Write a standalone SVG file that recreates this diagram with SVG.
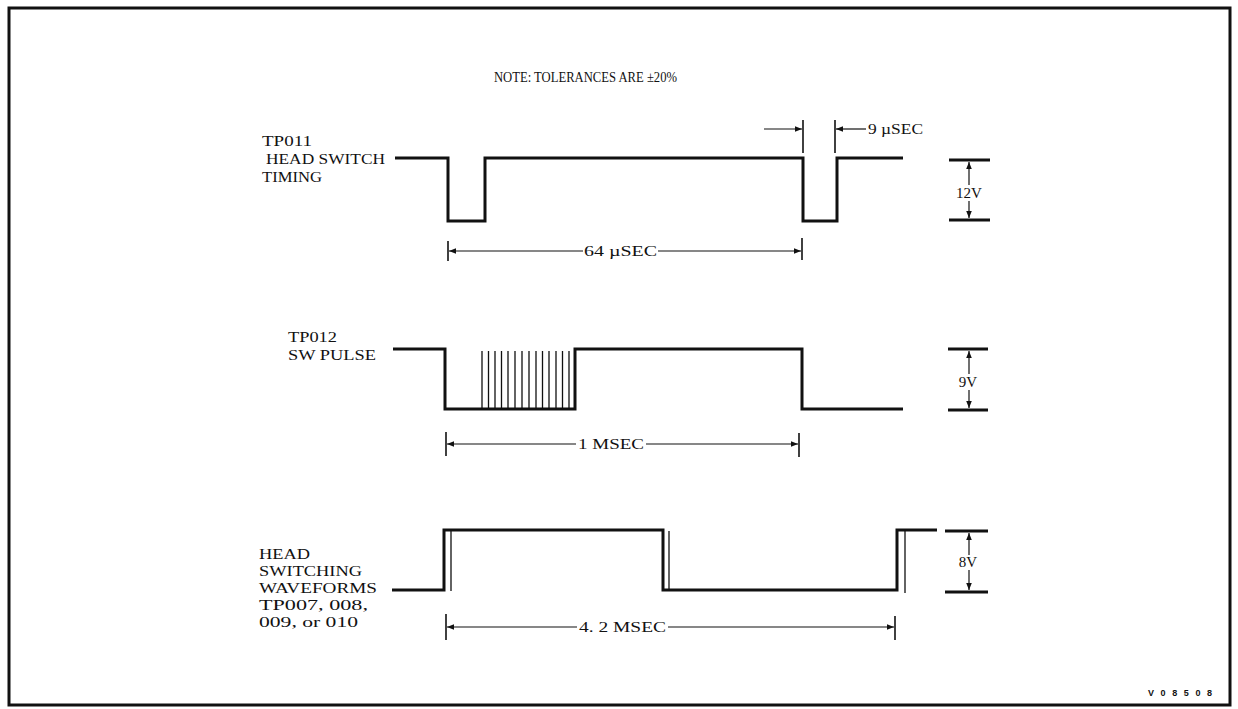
<svg xmlns="http://www.w3.org/2000/svg" width="1238" height="709" viewBox="0 0 1238 709">
<defs>
<style>
.t{font-family:"Liberation Serif","Times New Roman",serif;font-size:15px;fill:#111}
.w{fill:none;stroke:#111;stroke-width:3;stroke-linejoin:miter}
.thin{fill:none;stroke:#111;stroke-width:1.3}
.d{fill:none;stroke:#111;stroke-width:1.2}
.bar{stroke:#111;stroke-width:3}
.ext{stroke:#111;stroke-width:1.6}
</style>
<marker id="ah" viewBox="0 0 10 10" refX="10" refY="5" markerWidth="10" markerHeight="7" markerUnits="userSpaceOnUse" orient="auto-start-reverse">
<path d="M0,1 L10,5 L0,9 Z" fill="#111"/>
</marker>
</defs>
<rect width="1238" height="709" fill="#fff"/>
<rect x="9" y="8" width="1221" height="697" fill="none" stroke="#111" stroke-width="3"/>
<text class="t" x="494" y="82" font-size="12.5" textLength="183" lengthAdjust="spacingAndGlyphs">NOTE:  TOLERANCES ARE ±20%</text>

<g id="tp011">
<text class="t" x="262" y="146" textLength="50" lengthAdjust="spacingAndGlyphs">TP011</text>
<text class="t" x="266" y="164" textLength="119" lengthAdjust="spacingAndGlyphs">HEAD SWITCH</text>
<text class="t" x="262" y="182" textLength="60" lengthAdjust="spacingAndGlyphs">TIMING</text>
<path class="w" d="M395,158 H448 V221 H485 V158 H803 V221 H837 V158 H903"/>
</g>

<g id="tp012">
<text class="t" x="288" y="342" textLength="49" lengthAdjust="spacingAndGlyphs">TP012</text>
<text class="t" x="288" y="360" textLength="88" lengthAdjust="spacingAndGlyphs">SW PULSE</text>
<path class="w" d="M393,349 H445 V409 H575 V349 H802 V409 H903"/>
<path class="thin" d="M482,351V409M488.5,351V409M495,351V409M501.5,351V409M508,351V409M515,351V409M522,351V409M529,351V409M536,351V409M542.5,351V409M549,351V409M556,351V409M562.5,351V409M569,351V409"/>
</g>

<g id="headsw">
<text class="t" x="259" y="559" textLength="51" lengthAdjust="spacingAndGlyphs">HEAD</text>
<text class="t" x="259" y="576" textLength="103" lengthAdjust="spacingAndGlyphs">SWITCHING</text>
<text class="t" x="259" y="593" textLength="118" lengthAdjust="spacingAndGlyphs">WAVEFORMS</text>
<text class="t" x="259" y="610" textLength="109" lengthAdjust="spacingAndGlyphs">TP007, 008,</text>
<text class="t" x="259" y="627" textLength="99" lengthAdjust="spacingAndGlyphs">009, or 010</text>
<path class="w" d="M392,590 H444 V530 H663 V590 H897 V530 H937"/>
<path class="thin" d="M451,531V591M669,531V591M905,531V593"/>
</g>

<g id="volt">
<line class="bar" x1="949" y1="160" x2="990" y2="160"/>
<line class="bar" x1="949" y1="220" x2="990" y2="220"/>
<text class="t" x="969" y="198" text-anchor="middle">12V</text>
<line class="bar" x1="948" y1="349" x2="988" y2="349"/>
<line class="bar" x1="948" y1="410" x2="988" y2="410"/>
<text class="t" x="968" y="387" text-anchor="middle">9V</text>
<line class="bar" x1="945" y1="531" x2="988" y2="531"/>
<line class="bar" x1="945" y1="592" x2="988" y2="592"/>
<text class="t" x="968" y="567" text-anchor="middle">8V</text>
</g>

<g id="connectors">
<line class="d" x1="969" y1="185" x2="969" y2="162" marker-end="url(#ah)"/>
<line class="d" x1="969" y1="201" x2="969" y2="218" marker-end="url(#ah)"/>
<line class="d" x1="969" y1="374" x2="969" y2="351" marker-end="url(#ah)"/>
<line class="d" x1="969" y1="390" x2="969" y2="408" marker-end="url(#ah)"/>
<line class="d" x1="969" y1="555" x2="969" y2="533" marker-end="url(#ah)"/>
<line class="d" x1="969" y1="570" x2="969" y2="590" marker-end="url(#ah)"/>

<line class="ext" x1="803" y1="120" x2="803" y2="153"/>
<line class="ext" x1="835" y1="120" x2="835" y2="153"/>
<line class="d" x1="764" y1="129" x2="802" y2="129" marker-end="url(#ah)"/>
<line class="d" x1="866" y1="129" x2="836" y2="129" marker-end="url(#ah)"/>
<text class="t" x="868" y="134" textLength="55" lengthAdjust="spacingAndGlyphs">9 µSEC</text>

<line class="ext" x1="448" y1="241" x2="448" y2="261"/>
<line class="ext" x1="802" y1="238" x2="802" y2="260"/>
<line class="d" x1="583" y1="251" x2="449" y2="251" marker-end="url(#ah)"/>
<line class="d" x1="658" y1="251" x2="801" y2="251" marker-end="url(#ah)"/>
<text class="t" x="584" y="256" textLength="73" lengthAdjust="spacingAndGlyphs">64 µSEC</text>

<line class="ext" x1="446" y1="432" x2="446" y2="456"/>
<line class="ext" x1="799" y1="433" x2="799" y2="457"/>
<line class="d" x1="576" y1="444" x2="447" y2="444" marker-end="url(#ah)"/>
<line class="d" x1="646" y1="444" x2="798" y2="444" marker-end="url(#ah)"/>
<text class="t" x="578" y="449" textLength="66" lengthAdjust="spacingAndGlyphs">1  MSEC</text>

<line class="ext" x1="446" y1="614" x2="446" y2="640"/>
<line class="ext" x1="895" y1="616" x2="895" y2="640"/>
<line class="d" x1="577" y1="627" x2="447" y2="627" marker-end="url(#ah)"/>
<line class="d" x1="668" y1="627" x2="894" y2="627" marker-end="url(#ah)"/>
<text class="t" x="579" y="632" textLength="87" lengthAdjust="spacingAndGlyphs">4. 2 MSEC</text>
</g>

<text x="1148" y="696" font-family="Liberation Sans, Arial, sans-serif" font-size="9" font-weight="bold" textLength="64" fill="#111">V08508</text>
</svg>
